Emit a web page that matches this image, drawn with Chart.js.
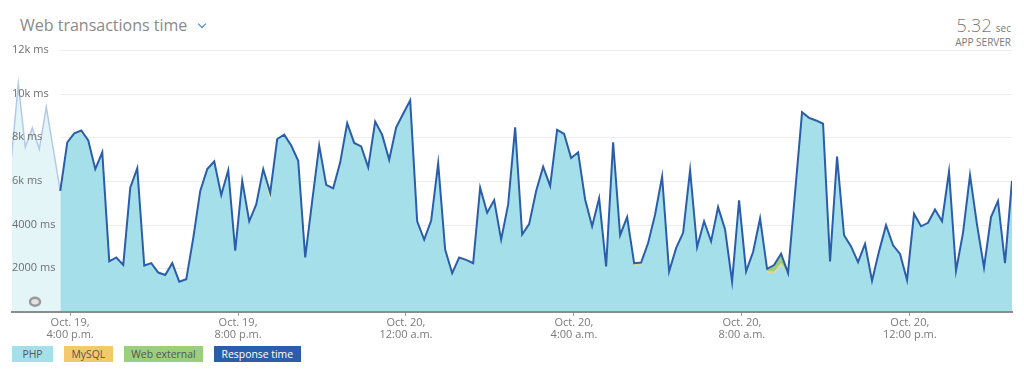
<!DOCTYPE html>
<html>
<head>
<meta charset="utf-8">
<script src="https://cdn.jsdelivr.net/npm/chart.js@4.4.1/dist/chart.umd.min.js"></script>
<style>
  html, body { margin: 0; padding: 0; background: #fff; }
  body { width: 1024px; height: 376px; position: relative; overflow: hidden; font-family: "Open Sans", sans-serif; }
  #chart { position: absolute; left: 0; top: 0; }
  .title { position: absolute; left: 20px; top: 14px; font-size: 16px; color: #8a8a8a; white-space: nowrap; }
  .chev { display: inline-block; width: 5px; height: 5px; margin-left: 12px; border-right: 1.5px solid #3a7cc4; border-bottom: 1.5px solid #3a7cc4; transform: translateY(-4px) rotate(45deg); }
  .stat { position: absolute; right: 13px; top: 13px; text-align: right; color: #7a7a7a; }
  .stat .num { font-size: 18px; font-weight: 300; }
  .stat .unit { font-size: 10px; }
  .stat .sub { font-size: 10px; margin-top: -2px; }
  #legend { position: absolute; left: 12px; top: 346px; display: flex; gap: 11px; }
  #legend span { display: block; height: 16px; line-height: 16px; padding: 0 7.5px; min-width: 26px; text-align: center; font-size: 10.4px; color: #555; }
</style>
</head>
<body>
<div class="title">Web transactions time<span class="chev"></span></div>
<div class="stat"><span class="num">5.32</span> <span class="unit">sec</span><div class="sub">APP SERVER</div></div>
<canvas id="chart" width="1024" height="376"></canvas>
<div id="legend"></div>
<script>
  // minutes after midnight, Oct. 19
  const startMinute = 946;
  const leadInMinute = 876;
  const stepMinutes = 10;

  // faded period before the selected range (ms)
  const leadInTime = [7000, 10460, 7540, 8430, 7460, 9380, 7460];

  // response time, one point every 10 minutes (ms)
  const responseTime = [
    5540, 7770, 8180, 8310, 7850, 6540, 7310, 2310, 2490, 2150,
    5690, 6580, 2120, 2230, 1800, 1690, 2230, 1380, 1490, 3380,
    5540, 6540, 6890, 5350, 6490, 2800, 6000, 4150, 4920, 6540,
    5460, 7920, 8120, 7620, 6920, 2490, 5080, 7620, 5820, 5660,
    6850, 8650, 7740, 7580, 6620, 8720, 8110, 6970, 8460, 9080,
    9690, 4150, 3310, 4180, 6800, 2850, 1770, 2490, 2380, 2230,
    5690, 4540, 5120, 3310, 4920, 8460, 3540, 4020, 5540, 6650,
    5770, 8340, 8150, 7050, 7310, 5150, 3920, 5200, 2080, 7770,
    3510, 4340, 2230, 2260, 3150, 4460, 6200, 1850, 2920, 3620,
    6490, 2970, 4150, 3230, 4800, 3770, 1380, 5110, 1850, 2740,
    4280, 1970, 2140, 2660, 1770, 5460, 9150, 8890, 8770, 8620,
    2310, 7110, 3510, 3000, 2280, 3110, 1420, 2770, 3970, 3050,
    2650, 1460, 4490, 3920, 4080, 4690, 4150, 6430, 1880, 3620,
    6260, 4000, 2030, 4340, 5080, 2230, 6000
  ];

  // [point index, ms] where the thin layers show
  const mysqlTime = [[3, 40], [29, 60], [30, 150], [57, 60], [58, 60], [82, 40], [83, 40], [101, 60], [102, 60], [103, 60]];
  const webExternalTime = [[3, 60], [30, 250], [82, 60], [83, 60], [101, 120], [102, 300], [103, 450]];

  const xTickValues = [960, 1200, 1440, 1680, 1920, 2160];
  const xTickLabels = [
    ['Oct. 19,', '4:00 p.m.'], ['Oct. 19,', '8:00 p.m.'], ['Oct. 20,', '12:00 a.m.'],
    ['Oct. 20,', '4:00 a.m.'], ['Oct. 20,', '8:00 a.m.'], ['Oct. 20,', '12:00 p.m.']
  ];
  const yTickValues = [0, 2000, 4000, 6000, 8000, 10000, 12000];
  const yTickLabels = ['', '2000 ms', '4000 ms', '6k ms', '8k ms', '10k ms', '12k ms'];

  const colors = {
    php: '#a5dfe9',
    mysql: '#f4c96c',
    web: '#9bcf7c',
    response: '#2a5eaa',
    leadLine: '#b3cae6',
    leadFill: '#e4f5f8'
  };

  const minuteAt = i => startMinute + i * stepMinutes;
  const sparse = pairs => {
    const arr = responseTime.map(() => 0);
    pairs.forEach(([i, v]) => { arr[i] = v; });
    return arr;
  };
  const mysql = sparse(mysqlTime);
  const web = sparse(webExternalTime);
  const php = responseTime.map((v, i) => v - mysql[i] - web[i]);
  const toPoints = arr => arr.map((y, i) => ({ x: minuteAt(i), y }));

  const leadPoints = leadInTime
    .map((y, i) => ({ x: leadInMinute + i * stepMinutes, y }))
    .concat([{ x: startMinute, y: responseTime[0] }]);

  const gridFromStart = {
    id: 'gridFromStart',
    beforeDatasetsDraw(chart) {
      const { ctx, chartArea, scales: { x, y } } = chart;
      const left = x.getPixelForValue(startMinute);
      ctx.save();
      ctx.strokeStyle = '#ededed';
      ctx.lineWidth = 1;
      y.ticks.forEach(t => {
        if (!t.value) return;
        const py = Math.round(y.getPixelForValue(t.value)) + 0.5;
        ctx.beginPath();
        ctx.moveTo(left, py);
        ctx.lineTo(chartArea.right, py);
        ctx.stroke();
      });
      ctx.restore();
    },
    afterDraw(chart) {
      // little drag handle in the faded area
      const { ctx, chartArea } = chart;
      ctx.save();
      ctx.beginPath();
      ctx.ellipse(chartArea.left + 23, chartArea.bottom - 10, 5, 4, 0, 0, Math.PI * 2);
      ctx.fillStyle = '#e2e2e2';
      ctx.fill();
      ctx.lineWidth = 2.5;
      ctx.strokeStyle = '#9a9a9a';
      ctx.stroke();
      ctx.restore();
    }
  };

  const area = (label, data, color, fill) => ({
    label, data, fill, stack: 'parts', order: 1,
    backgroundColor: color, borderColor: color, borderWidth: 0,
    pointRadius: 0, tension: 0
  });

  const datasets = [
    {
      label: 'lead', data: leadPoints, stack: 'lead', order: 2, fill: 'origin',
      backgroundColor: colors.leadFill, borderColor: colors.leadLine, borderWidth: 1.5,
      pointRadius: 0, tension: 0
    },
    area('PHP', toPoints(php), colors.php, 'origin'),
    area('MySQL', toPoints(mysql), colors.mysql, '-1'),
    area('Web external', toPoints(web), colors.web, '-1'),
    {
      label: 'Response time', data: toPoints(responseTime), stack: 'total', order: 0, fill: false,
      borderColor: colors.response, borderWidth: 2, pointRadius: 0, tension: 0
    }
  ];

  const tickFont = { family: '"Open Sans", sans-serif', size: 11 };

  new Chart(document.getElementById('chart'), {
    type: 'line',
    data: { datasets },
    options: {
      responsive: false,
      animation: false,
      layout: { padding: { left: 12, right: 12, top: 50, bottom: 34 } },
      plugins: { legend: { display: false }, tooltip: { enabled: false } },
      scales: {
        x: {
          type: 'linear', min: 877, max: 2306,
          afterBuildTicks: axis => { axis.ticks = xTickValues.map(v => ({ value: v })); },
          ticks: {
            z: 1, callback: (v, i) => xTickLabels[i], maxRotation: 0, autoSkip: false,
            color: '#7a7a7a', font: { ...tickFont, lineHeight: 1.1 }, padding: 1
          },
          grid: { display: true, drawOnChartArea: false, drawTicks: true, tickLength: 4, color: '#9a9a9a' },
          border: { display: true, color: '#8c8c8c', width: 2, z: 1 }
        },
        y: {
          stacked: true, min: 0, max: 12000,
          afterBuildTicks: axis => { axis.ticks = yTickValues.map(v => ({ value: v })); },
          ticks: { z: 1, mirror: true, padding: 0, callback: (v, i) => yTickLabels[i], color: '#6f6f6f', font: tickFont },
          grid: { display: false, drawTicks: false },
          border: { display: false }
        }
      }
    },
    plugins: [gridFromStart]
  });

  // html legend boxes
  const legend = document.getElementById('legend');
  [['PHP', colors.php], ['MySQL', colors.mysql], ['Web external', colors.web], ['Response time', colors.response]]
    .forEach(([label, color]) => {
      const el = document.createElement('span');
      el.textContent = label;
      el.style.background = color;
      if (label === 'Response time') el.style.color = '#fff';
      legend.appendChild(el);
    });
</script>
</body>
</html>
